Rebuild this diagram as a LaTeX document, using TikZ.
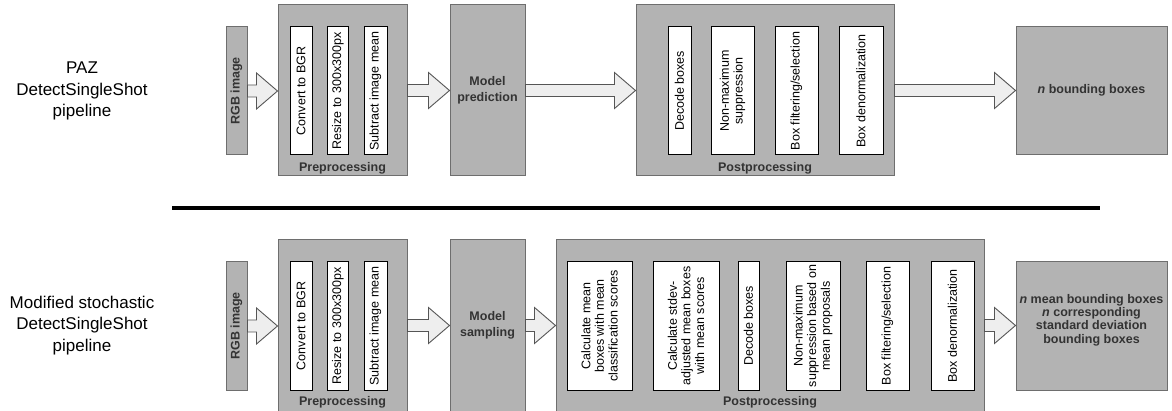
\documentclass[tikz,border=0pt]{standalone}
\usepackage{fontspec}
\setmainfont{Liberation Sans}
\usetikzlibrary{calc}
\definecolor{boxgrey}{HTML}{B3B3B3}
\definecolor{edgegrey}{HTML}{6E6E6E}
\definecolor{labelgrey}{HTML}{333333}
\definecolor{arrowfill}{HTML}{EEEEEE}
\definecolor{arrowedge}{HTML}{555555}
\tikzset{
  greybox/.style={draw=edgegrey, fill=boxgrey, line width=1pt, inner sep=0pt, rectangle},
  stagebox/.style={greybox, minimum width=#1, minimum height=171},
  endbox/.style={greybox, minimum width=#1, minimum height=128.5},
  boldtxt/.style={font=\bfseries\fontsize{12.5}{15.5}\selectfont, text=labelgrey, align=center, inner sep=0pt},
  rgbbox/.style={greybox, minimum width=21, minimum height=128, boldtxt},
  innerbox/.style={draw=black, fill=white, line width=1pt, rotate=90, minimum width=128, minimum height=#1, inner sep=0.5pt, align=center, font=\fontsize{12.5}{13.6}\selectfont},
  sidelabel/.style={font=\fontsize{17}{21.5}\selectfont, align=center},
  fatarrowstyle/.style={draw=arrowedge, fill=arrowfill, line width=0.9pt, line join=miter},
  seprule/.style={line width=3.6pt, draw=black}
}
\newcommand\fatarrow[2]{%
  \draw[fatarrowstyle] let \p1=(#1.east), \p2=(#2.west) in
    (\x1,\y1+6pt) -- (\x2-21pt,\y1+6pt) -- (\x2-21pt,\y1+18pt) -- (\x2,\y1)
    -- (\x2-21pt,\y1-18pt) -- (\x2-21pt,\y1-6pt) -- (\x1,\y1-6pt) -- cycle;}
\begin{document}
\begin{tikzpicture}[x=1pt, y=-1pt]
\useasboundingbox (0,0) rectangle (1172,411);

% ---------- top row ----------
\node[sidelabel] (lab1) at (82,91) {PAZ\\DetectSingleShot\\pipeline};
\node[rgbbox] (rgb1) at (236.5,91) {\rotatebox{90}{RGB image}};
\node[stagebox=129] (pre1) at (342.5,90.5) {};
\node[boldtxt] (pre1lab) at (342.5,168) {Preprocessing};
\node[innerbox=22] (conv1) at (301,91) {Convert to BGR};
\node[innerbox=21] (resz1) at (338,91) {Resize to 300x300px};
\node[innerbox=23] (subm1) at (375.5,91) {Subtract image mean};
\node[stagebox=75, boldtxt] (mod1) at (487.5,90.5) {Model\\prediction};
\node[stagebox=258] (post1) at (765,90.5) {};
\node[boldtxt] (post1lab) at (765,168) {Postprocessing};
\node[innerbox=23] (dec1) at (679.5,91) {Decode boxes};
\node[innerbox=43] (nms1) at (732.5,91) {Non-maximum\\suppression};
\node[innerbox=43] (filt1) at (796.5,91) {Box filtering/selection};
\node[innerbox=44] (den1) at (861,91) {Box denormalization};
\node[endbox=151, boldtxt] (out1) at (1091.5,90.5) {\textit{n} bounding boxes};

\fatarrow{rgb1}{pre1}
\fatarrow{pre1}{mod1}
\fatarrow{mod1}{post1}
\fatarrow{post1}{out1}

% ---------- separator ----------
\coordinate (sepL) at (172,208);
\coordinate (sepR) at (1100,208);
\draw[seprule] (sepL) -- (sepR);

% ---------- bottom row ----------
\node[sidelabel] (lab2) at (82,325.5) {Modified stochastic\\DetectSingleShot\\pipeline};
\node[rgbbox] (rgb2) at (236.5,326) {\rotatebox{90}{RGB image}};
\node[stagebox=129] (pre2) at (342.5,325.5) {};
\node[boldtxt] (pre2lab) at (342.5,402) {Preprocessing};
\node[innerbox=22] (conv2) at (301,326) {Convert to BGR};
\node[innerbox=21] (resz2) at (338,326) {Resize to 300x300px};
\node[innerbox=23] (subm2) at (375.5,326) {Subtract image mean};
\node[stagebox=75, boldtxt] (mod2) at (487.5,325.5) {Model\\sampling};
\node[stagebox=428] (post2) at (770,325.5) {};
\node[boldtxt] (post2lab) at (770,402) {Postprocessing};
\node[innerbox=65] (cmean) at (599.5,326) {Calculate mean\\boxes with mean\\classification scores};
\node[innerbox=66] (cstd) at (686,326) {Calculate stdev-\\adjusted mean boxes\\with mean scores};
\node[innerbox=21] (dec2) at (748.5,326) {Decode boxes};
\node[innerbox=54] (nms2) at (813,326) {Non-maximum\\suppression based on\\mean proposals};
\node[innerbox=43] (filt2) at (887.5,326) {Box filtering/selection};
\node[innerbox=43] (den2) at (952.5,326) {Box denormalization};
\node[endbox=151] (out2) at (1091.5,326) {};
\node[boldtxt, font=\bfseries\fontsize{12.5}{13.2}\selectfont] (out2txt) at (1091.5,320) {\textit{n} mean bounding boxes\\\textit{n} corresponding\\standard deviation\\bounding boxes};

\fatarrow{rgb2}{pre2}
\fatarrow{pre2}{mod2}
\fatarrow{mod2}{post2}
\fatarrow{post2}{out2}
\end{tikzpicture}
\end{document}
